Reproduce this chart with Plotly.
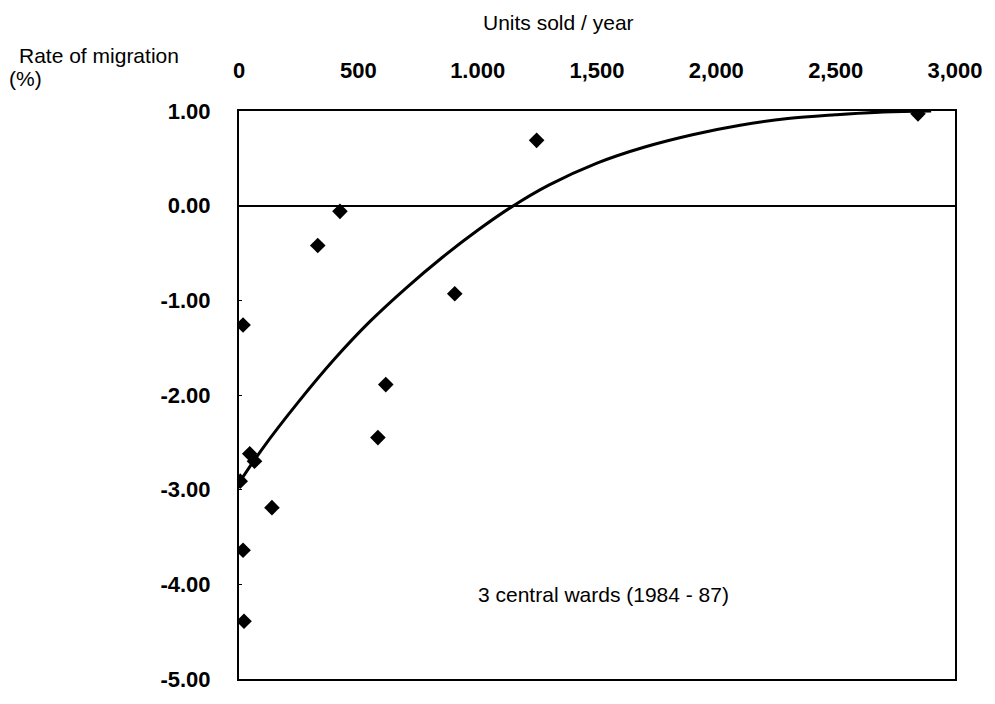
import plotly.graph_objects as go

# Scatter data (units sold / year, rate of migration %)
units_sold = [17, 423, 330, 1247, 904, 615, 582, 45, 65, 5, 138, 17, 21, 2845]
migration = [-1.26, -0.06, -0.42, 0.69, -0.93, -1.89, -2.45, -2.62, -2.70, -2.91, -3.19, -3.64, -4.39, 0.97]

# Fitted curve
curve_x = [0, 100, 250, 400, 550, 700, 850, 1000, 1150, 1300, 1500, 1700, 1900, 2100, 2300, 2500, 2700, 2900]
curve_y = [-2.93, -2.56, -2.07, -1.62, -1.22, -0.87, -0.55, -0.26, 0.0, 0.22, 0.45, 0.62, 0.75, 0.85, 0.92, 0.96, 0.99, 1.0]

x_tickvals = [0, 500, 1000, 1500, 2000, 2500, 3000]
x_ticktext = ["0", "500", "1.000", "1,500", "2,000", "2,500", "3,000"]
y_tickvals = [1, 0, -1, -2, -3, -4, -5]
y_ticktext = ["1.00", "0.00", "-1.00", "-2.00", "-3.00", "-4.00", "-5.00"]

W, H = 995, 704
L, R, T, B = 239, 39, 111, 13
pw, ph = W - L - R, H - T - B

tickfont = dict(size=22, family="Liberation Sans, Arial, sans-serif", weight="bold", color="black")
textfont = dict(size=21, family="Liberation Sans, Arial, sans-serif", color="black")

fig = go.Figure()
fig.add_trace(go.Scatter(x=curve_x, y=curve_y, mode="lines",
                         line=dict(color="black", width=3, shape="spline", smoothing=1.0),
                         hoverinfo="skip", showlegend=False))
fig.add_trace(go.Scatter(x=units_sold, y=migration, mode="markers",
                         marker=dict(symbol="diamond", size=12, color="black"), showlegend=False))


def px2paper(px, py):
    return (px - L) / pw, 1 - (py - T) / ph


annots = [
    ("Units sold / year", 559, 21, "center"),
    ("Rate of migration", 17, 54, "left"),
    ("(%)", 7, 78, "left"),
    ("3 central wards (1984 - 87)", 604, 605, "center"),
]
ann_list = []
for text, px, py, anchor in annots:
    xx, yy = px2paper(px, py)
    ann_list.append(dict(text=text, x=xx, y=yy, xref="paper", yref="paper", showarrow=False,
                         xanchor=anchor, yanchor="middle", font=textfont))

fig.update_layout(
    width=W, height=H,
    margin=dict(l=L, r=R, t=T, b=B),
    paper_bgcolor="white", plot_bgcolor="white",
    font=dict(family="Liberation Sans, Arial, sans-serif", color="black"),
    xaxis=dict(range=[0, 3000], side="top", tickvals=x_tickvals, ticktext=x_ticktext,
               showgrid=False, zeroline=False, showline=True, linecolor="black", linewidth=2,
               mirror=True, ticks="", ticklabelstandoff=22, tickfont=tickfont),
    yaxis=dict(range=[-5, 1], tickvals=y_tickvals, ticktext=y_ticktext,
               showgrid=False, zeroline=True, zerolinecolor="black", zerolinewidth=1.5,
               showline=True, linecolor="black", linewidth=2, mirror=True,
               ticks="inside", ticklen=3, tickcolor="black", ticklabelstandoff=22,
               tickfont=tickfont),
    annotations=ann_list,
)

fig.write_html("out.html")
